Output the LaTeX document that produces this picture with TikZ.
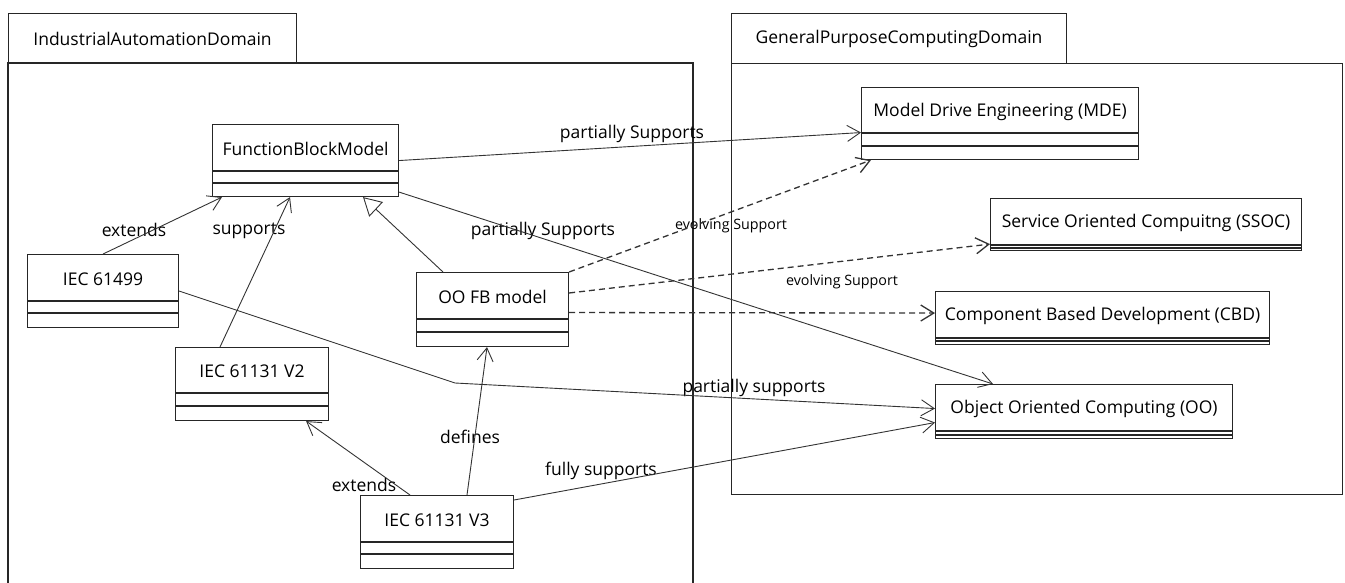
\documentclass[tikz,border=0pt]{standalone}
\usepackage{fontspec}
\setmainfont{Open Sans}
\usetikzlibrary{calc}
\usetikzlibrary{positioning}
\usetikzlibrary{arrows.meta}
\tikzset{umlbox/.style={rectangle,draw=black!85,line width=1.1pt,inner sep=0pt},
classname/.style={rectangle,inner sep=0pt,font=\fontsize{17.5}{17.5}\selectfont},
pkgtab/.style={umlbox,font=\fontsize{17.5}{17.5}\selectfont},
edgelabel/.style={rectangle,inner sep=0pt,font=\fontsize{17.5}{17.5}\selectfont},
smalllabel/.style={edgelabel,font=\fontsize{14.3}{14.3}\selectfont},
assoc/.style={->,line width=0.9pt,draw=black!80},
dep/.style={assoc,dash pattern=on 6pt off 4pt,line width=1.3pt},
gen/.style={-{Triangle[open,length=18pt,width=20pt]},line width=0.9pt,draw=black!80},
>={Straight Barb[length=13pt,width=16pt]}}
\newcommand{\umlclass}[7]{
\node (#1) [umlbox, anchor=north west, minimum width=#3, minimum height=#4+#5+#6] at #2 {};
\node (#1-name) [classname] at ($(#1.north)+(0,#4/2+1.5)$) {#7};
\draw [line width=1.1pt,black!85] ($(#1.north west)+(0,#4)$) -- ($(#1.north east)+(0,#4)$);
\draw [line width=1.1pt,black!85] ($(#1.north west)+(0,#4+#5)$) -- ($(#1.north east)+(0,#4+#5)$);
}

\begin{document}
\begin{tikzpicture}[x=1pt,y=-1pt]
    \useasboundingbox (0,0) rectangle (1345,583);

    % packages
    \node (iad) [pkgtab, anchor=north west, minimum width=288, minimum height=50] at (8,13) {IndustrialAutomationDomain};
    \draw [line width=1.1pt,black!85] (8,583) -- (8,63) -- (693,63) -- (693,583);
    \node (gpcd-tab) [pkgtab, anchor=north west, minimum width=335, minimum height=50] at (731,13) {GeneralPurposeComputingDomain};
    \node (gpcd) [umlbox, anchor=north west, minimum width=611, minimum height=431] at (731,63) {};

    % classes
    \umlclass{fbm}{(212,124)}{186}{47}{12}{13}{FunctionBlockModel}
    \umlclass{iec61499}{(27,254)}{151}{47}{12}{14}{IEC 61499}
    \umlclass{oofb}{(416,272)}{152}{47}{13}{14}{OO FB model}
    \umlclass{v2}{(175,347)}{153}{46}{13}{14}{IEC 61131 V2}
    \umlclass{v3}{(360,495)}{153}{47}{12}{14}{IEC 61131 V3}

    \umlclass{mde}{(861,87)}{277}{46}{13}{13}{Model Drive Engineering (MDE)}
    \umlclass{ssoc}{(990,198)}{311}{47}{3}{2}{Service Oriented Compuitng (SSOC)}
    \umlclass{cbd}{(935,291)}{334}{47}{3}{3}{Component Based Development (CBD)}
    \umlclass{oo}{(935,384)}{297}{47}{4}{3}{Object Oriented Computing (OO)}

    \coordinate (bend) at (455,383);

    % labels
    \node (l-fbm-mde) [edgelabel] at (632,134) {partially Supports};
    \node (l-fbm-oo) [edgelabel] at (543,231) {partially Supports};
    \node (l-61499-fbm) [edgelabel] at (134,230) {extends};
    \node (l-v2-fbm) [edgelabel] at (249,231) {supports};
    \node (l-oofb-mde) [smalllabel] at (731,226) {evolving Support};
    \node (l-oofb-ssoc) [smalllabel] at (842,282) {evolving Support};
    \node (l-61499-oo) [edgelabel] at (754,388) {partially supports};
    \node (l-v3-oofb) [edgelabel] at (470,437) {defines};
    \node (l-v3-v2) [edgelabel] at (364,485) {extends};
    \node (l-v3-oo) [edgelabel] at (601,471) {fully supports};

    \draw [assoc] (fbm.east) -- ([yshift=-9pt]mde.west);
    \draw [assoc] ([yshift=5pt]fbm.south east) -- ([xshift=58pt]oo.north west);
    \draw [assoc] (iec61499.north) -- ([xshift=10pt]fbm.south west);
    \draw [assoc] ([xshift=45pt]v2.north west) -- ([xshift=78pt]fbm.south west);
    \draw [gen] ([xshift=27pt]oofb.north west) -- ([xshift=151pt]fbm.south west);

    \draw [dep] (oofb.north east) -- ([xshift=10pt]mde.south west);
    \draw [dep] ([yshift=-21pt]oofb.north east) -- ([yshift=7pt]ssoc.south west);
    \draw [dep] ([yshift=-3pt]oofb.east) -- ([yshift=5pt]cbd.west);

    \draw [assoc] (iec61499.east) -- (bend) -- ([yshift=3pt]oo.west);
    \draw [assoc] ([xshift=50pt]v3.north west) -- ([xshift=-23pt]v2.south east);
    \draw [assoc] ([xshift=107pt]v3.north west) -- ([xshift=71pt]oofb.south west);
    \draw [assoc] ([yshift=-5pt]v3.north east) -- ([yshift=-11pt]oo.west);

\end{tikzpicture}
\end{document}
